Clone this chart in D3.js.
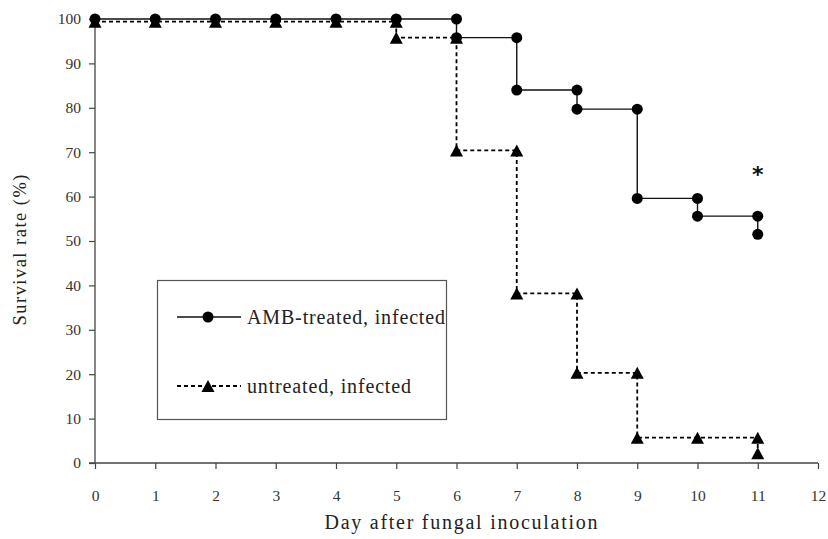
<!DOCTYPE html>
<html>
<head>
<meta charset="utf-8">
<script src="https://cdn.jsdelivr.net/npm/d3@7"></script>
<style>
  body { margin: 0; background: #fff; }
</style>
</head>
<body>
<div id="chart"></div>
<script>
// survival data (step curves, each drop drawn as two points)
var ambDays   = [0, 1, 2, 3, 4, 5, 6, 6, 7, 7, 8, 8, 9, 9, 10, 10, 11, 11];
var ambValues = [100, 100, 100, 100, 100, 100, 100, 95.8, 95.8, 84, 84, 79.7, 79.7, 59.6, 59.6, 55.6, 55.6, 51.5];

var untDays   = [0, 1, 2, 3, 4, 5, 5, 6, 6, 7, 7, 8, 8, 9, 9, 10, 11, 11];
var untValues = [99.4, 99.4, 99.4, 99.4, 99.4, 99.4, 95.8, 95.8, 70.4, 70.4, 38.2, 38.2, 20.3, 20.3, 5.7, 5.7, 5.7, 2.2];

var xTicks = [0, 1, 2, 3, 4, 5, 6, 7, 8, 9, 10, 11, 12];
var yTicks = [0, 10, 20, 30, 40, 50, 60, 70, 80, 90, 100];

var legendLabels = ["AMB-treated, infected", "untreated, infected"];

var width = 828, height = 539;
var serif = '"Liberation Serif", "Times New Roman", serif';

var svg = d3.select("#chart").append("svg")
    .attr("width", width)
    .attr("height", height);

var x = d3.scaleLinear().domain([0, 12]).range([95, 818]);
var y = d3.scaleLinear().domain([0, 100]).range([463, 19]);

// axes
var xAxis = svg.append("g")
    .attr("transform", "translate(0," + y(0) + ")")
    .call(d3.axisBottom(x).tickValues(xTicks).tickSize(6).tickPadding(21));
var yAxis = svg.append("g")
    .attr("transform", "translate(" + x(0) + ",0)")
    .call(d3.axisLeft(y).tickValues(yTicks).tickSize(6).tickPadding(8));

[xAxis, yAxis].forEach(function(ax) {
  ax.attr("font-family", null);
  ax.select(".domain").attr("stroke", "#444").attr("stroke-width", 1.3);
  ax.selectAll(".tick line").attr("stroke", "#444").attr("stroke-width", 1.2);
  ax.selectAll(".tick text")
    .style("font-family", serif)
    .style("font-size", "15.5px")
    .attr("fill", "#333");
});
xAxis.select(".domain").attr("d", "M" + (x(0) - 6) + ",0H" + x(12));
yAxis.select(".domain").attr("d", "M0," + y(100) + "V" + y(0));

// axis titles
svg.append("text")
    .attr("x", 461)
    .attr("y", 529)
    .attr("text-anchor", "middle")
    .attr("textLength", 273)
    .attr("lengthAdjust", "spacing")
    .style("font-family", serif)
    .style("font-size", "20px")
    .attr("fill", "#222")
    .text("Day after fungal inoculation");

svg.append("text")
    .attr("transform", "translate(26,250) rotate(-90)")
    .attr("text-anchor", "middle")
    .attr("textLength", 151)
    .attr("lengthAdjust", "spacing")
    .style("font-family", serif)
    .style("font-size", "18.5px")
    .attr("fill", "#222")
    .text("Survival rate (%)");

var line = d3.line()
    .x(function(d) { return x(d[0]); })
    .y(function(d) { return y(d[1]); });

var amb = ambDays.map(function(d, i) { return [d, ambValues[i]]; });
var unt = untDays.map(function(d, i) { return [d, untValues[i]]; });

function triangle(cx, cy) {
  var w = 13, h = 12;
  return "M" + cx + "," + (cy - h / 2) + "L" + (cx + w / 2) + "," + (cy + h / 2) + "L" + (cx - w / 2) + "," + (cy + h / 2) + "Z";
}

// untreated (dashed, triangles)
svg.append("path")
    .datum(unt)
    .attr("d", line)
    .attr("fill", "none")
    .attr("stroke", "#000")
    .attr("stroke-width", 1.8)
    .attr("stroke-dasharray", "4,3");

// treated (solid, circles)
svg.append("path")
    .datum(amb)
    .attr("d", line)
    .attr("fill", "none")
    .attr("stroke", "#111")
    .attr("stroke-width", 1.4);

svg.selectAll("path.tri")
    .data(unt)
    .enter().append("path")
    .attr("class", "tri")
    .attr("d", function(d) { return triangle(x(d[0]), y(d[1])); })
    .attr("fill", "#000");

svg.selectAll("circle.dot")
    .data(amb)
    .enter().append("circle")
    .attr("class", "dot")
    .attr("cx", function(d) { return x(d[0]); })
    .attr("cy", function(d) { return y(d[1]); })
    .attr("r", 5.5)
    .attr("fill", "#000");

// significance mark
svg.append("text")
    .attr("x", x(11))
    .attr("y", y(63.4))
    .attr("text-anchor", "middle")
    .style("font-family", '"DejaVu Sans", sans-serif')
    .style("font-size", "22px")
    .style("font-weight", "bold")
    .attr("fill", "#111")
    .text("*");

// legend
var legend = svg.append("g");
legend.append("rect")
    .attr("x", 157.5).attr("y", 280.5)
    .attr("width", 289).attr("height", 139)
    .attr("fill", "#fff")
    .attr("stroke", "#555")
    .attr("stroke-width", 1.2);

legend.append("line")
    .attr("x1", 177).attr("x2", 241).attr("y1", 317).attr("y2", 317)
    .attr("stroke", "#111").attr("stroke-width", 1.4);
legend.append("circle")
    .attr("cx", 208).attr("cy", 317).attr("r", 5.5).attr("fill", "#000");
legend.append("line")
    .attr("x1", 177).attr("x2", 241).attr("y1", 386).attr("y2", 386)
    .attr("stroke", "#000").attr("stroke-width", 1.8).attr("stroke-dasharray", "4,3");
legend.append("path")
    .attr("d", triangle(208, 386)).attr("fill", "#000");

var legendWidths = [198, 164];
legend.selectAll("text.lab")
    .data(legendLabels)
    .enter().append("text")
    .attr("class", "lab")
    .attr("x", 247)
    .attr("y", function(d, i) { return i === 0 ? 317 : 386; })
    .attr("dy", "0.35em")
    .attr("textLength", function(d, i) { return legendWidths[i]; })
    .attr("lengthAdjust", "spacing")
    .style("font-family", serif)
    .style("font-size", "20px")
    .attr("fill", "#222")
    .text(function(d) { return d; });
</script>
</body>
</html>
